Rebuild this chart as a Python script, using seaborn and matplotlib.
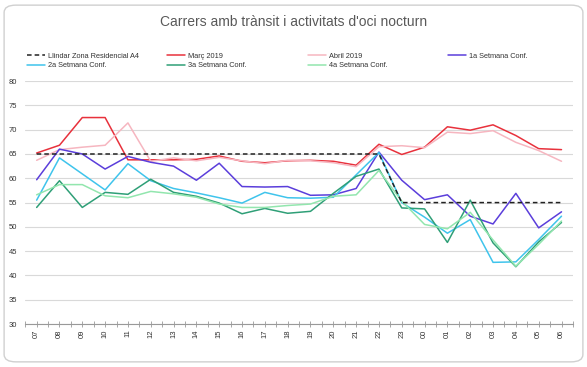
import matplotlib
matplotlib.use('Agg')
import matplotlib.pyplot as plt
import seaborn as sns
import pandas as pd
from matplotlib.patches import FancyBboxPatch
from matplotlib.lines import Line2D

title = "Carrers amb trànsit i activitats d'oci nocturn"
hours = ['07', '08', '09', '10', '11', '12', '13', '14', '15', '16', '17', '18',
         '19', '20', '21', '22', '23', '00', '01', '02', '03', '04', '05', '06']

llindar = [65, 65, 65, 65, 65, 65, 65, 65, 65, 65, 65, 65, 65, 65, 65, 65,
           55, 55, 55, 55, 55, 55, 55, 55]
marc = [65.2, 66.8, 72.5, 72.5, 63.8, 63.8, 63.8, 63.9, 64.6, 63.5, 63.2, 63.6,
        63.7, 63.5, 62.7, 67.0, 64.9, 66.4, 70.6, 69.9, 71.0, 68.8, 66.1, 65.9]
abril = [63.7, 65.9, 66.4, 66.8, 71.4, 63.5, 64.2, 63.6, 64.3, 63.6, 63.0, 63.7,
         63.6, 63.2, 62.4, 66.5, 66.7, 66.3, 69.5, 69.2, 69.8, 67.4, 65.7, 63.5]
setm1 = [59.7, 66.0, 65.0, 61.9, 64.5, 63.3, 62.5, 59.6, 63.1, 58.3, 58.2, 58.3,
         56.5, 56.6, 57.9, 65.4, 59.6, 55.6, 56.6, 52.2, 50.6, 56.9, 49.8, 53.1]
setm2 = [55.5, 64.2, 60.9, 57.6, 63.0, 59.5, 57.9, 57.0, 56.0, 54.9, 57.1, 56.0,
         55.9, 56.1, 60.7, 65.3, 55.0, 52.0, 48.7, 51.5, 42.7, 42.8, 47.4, 52.2]
setm3 = [54.0, 59.5, 54.0, 57.1, 56.7, 59.8, 57.1, 56.3, 54.9, 52.7, 53.8, 52.8,
         53.2, 56.9, 60.4, 61.9, 53.9, 53.7, 46.8, 55.5, 46.7, 41.8, 46.9, 50.9]
setm4 = [56.6, 58.7, 58.7, 56.4, 56.0, 57.3, 56.8, 56.1, 54.7, 54.0, 54.0, 54.4,
         54.7, 56.3, 56.6, 61.6, 55.3, 50.5, 49.6, 53.0, 47.3, 41.9, 46.4, 51.2]

thr_name = 'Llindar Zona Residencial A4'
series_names = ['Març 2019', 'Abril 2019', '1a Setmana Conf.',
                '2a Setmana Conf.', '3a Setmana Conf.', '4a Setmana Conf.']
series_vals = [marc, abril, setm1, setm2, setm3, setm4]
colors = ['#e8313c', '#f6b6c0', '#5b3edb', '#3fc4ec', '#2f9f77', '#92e6ae']
palette = dict(zip(series_names, colors))

sns.set_theme(style='white')
plt.rcParams['font.family'] = ['Liberation Sans', 'DejaVu Sans']

fig = plt.figure(figsize=(5.87, 3.67), dpi=100)
ax = fig.add_axes([0.043, 0.117, 0.933, 0.662])

rows = []
for name, vals in zip(series_names, series_vals):
    for i, (h, v) in enumerate(zip(hours, vals)):
        rows.append({'pos': i, 'hora': h, 'serie': name, 'valor': v})
df = pd.DataFrame(rows)
thr = pd.DataFrame({'pos': list(range(len(hours))), 'valor': llindar})

sns.lineplot(data=df, x='pos', y='valor', hue='serie', hue_order=series_names,
             palette=palette, ax=ax, lw=1.1, legend=False)
sns.lineplot(data=thr, x='pos', y='valor', ax=ax, color='#222222', lw=1.1,
             linestyle=(0, (3, 2)), legend=False, zorder=5)

ax.set_xlim(-0.5, len(hours) - 0.5)
ax.set_ylim(30, 80)
ax.set_yticks(range(30, 81, 5))
ax.set_xticks(range(len(hours)))
ax.set_xticklabels(hours, rotation=90)
ax.set_xticks([i - 0.5 for i in range(len(hours) + 1)], minor=True)
ax.set_xlabel('')
ax.set_ylabel('')
ax.grid(axis='y', color='#d9d9d9', lw=0.8)
ax.set_axisbelow(True)
for s in ['left', 'top', 'right']:
    ax.spines[s].set_visible(False)
ax.spines['bottom'].set_color('#999999')
ax.spines['bottom'].set_linewidth(0.8)
ax.tick_params(axis='x', which='both', direction='inout', length=4, width=0.6,
               color='#999999', bottom=True, labelsize=5.5, labelcolor='#333333', pad=2)
ax.tick_params(axis='y', length=0, labelsize=5.5, labelcolor='#333333', pad=6)

fig.text(0.5, 0.94, title, ha='center', va='center', fontsize=10, color='#595959')

# legend in 4 columns, row-major
handles = [Line2D([], [], color='#222222', lw=1.1, linestyle=(0, (3, 2)))]
handles += [Line2D([], [], color=c, lw=1.1) for c in colors]
labels = [thr_name] + series_names
cols = [[0, 4], [1, 5], [2, 6], [3]]
xs = [27, 167, 308, 448]
for xpix, idx in zip(xs, cols):
    leg = fig.legend([handles[i] for i in idx], [labels[i] for i in idx],
                     loc='upper left', bbox_to_anchor=(xpix / 587, 1 - 52.5 / 367),
                     bbox_transform=fig.transFigure, frameon=False, fontsize=5.3,
                     handlelength=2.5, handletextpad=0.4, labelspacing=0.35,
                     borderpad=0, borderaxespad=0)
    for t in leg.get_texts():
        t.set_color('#333333')

border = FancyBboxPatch((0.007, 0.014), 0.986, 0.972,
                        boxstyle='round,pad=0,rounding_size=0.02',
                        transform=fig.transFigure, fc='none', ec='#d0d0d0', lw=1.0)
fig.patches.append(border)

fig.savefig('out.png', dpi=100)
